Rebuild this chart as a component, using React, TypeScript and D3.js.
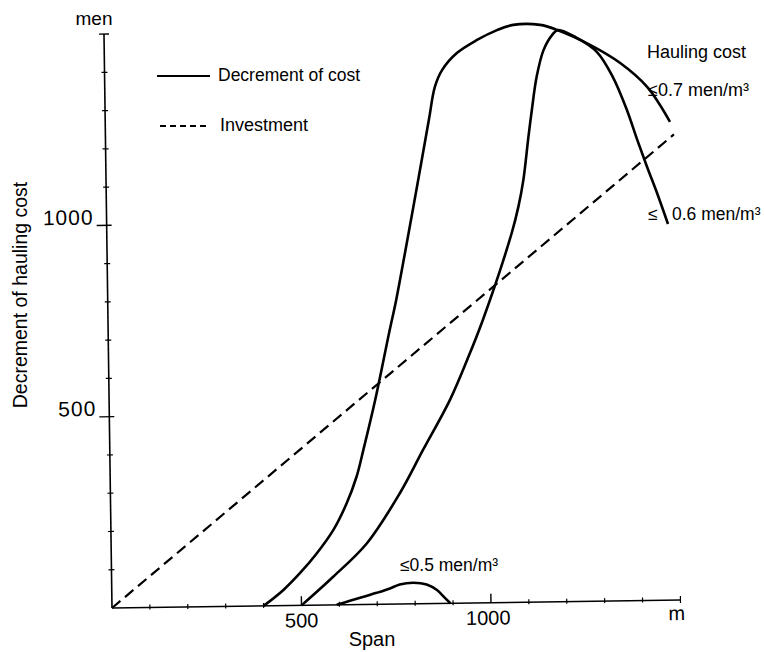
import React from "react";
import * as d3 from "d3";

// Span (m) vs decrement of hauling cost (men)
const curve07: [number, number][] = [
  [400, 0], [453, 41], [497, 84], [542, 135], [587, 196], [623, 265], [650, 334],
  [669, 404], [702, 534], [741, 708], [761, 794], [786, 917], [820, 1089], [854, 1264],
  [871, 1350], [891, 1394], [931, 1438], [984, 1471], [1037, 1496], [1080, 1509],
  [1151, 1508], [1196, 1494], [1282, 1454], [1360, 1406], [1431, 1342], [1490, 1250],
];
const curve06: [number, number][] = [
  [500, 0], [584, 73], [675, 160], [764, 290], [826, 401], [899, 531], [946, 635],
  [989, 739], [1068, 964], [1087, 1034], [1101, 1103], [1116, 1216], [1126, 1286],
  [1140, 1373], [1159, 1442], [1182, 1481], [1198, 1494], [1245, 1474], [1300, 1435],
  [1341, 1369], [1377, 1282], [1403, 1204], [1428, 1133], [1453, 1065], [1481, 983],
];
const curve05: [number, number][] = [
  [593, 0], [628, 10], [664, 20], [699, 30], [734, 41], [760, 51], [796, 55],
  [831, 50], [858, 35], [880, 13], [893, 0],
];
const investment: [number, number][] = [[0, 0], [1500, 1217]];

const xMinorTicks = [100, 200, 300, 400, 600, 700, 800, 900, 1100, 1200, 1300, 1400];
const xMajorTicks = [500, 1000];
const yMinorTicks = [100, 200, 300, 400, 600, 700, 800, 900, 1100, 1200, 1300, 1400];
const yMajorTicks = [500, 1000];
const xTickLabels = ["500", "1000"];
const yTickLabels = ["500", "1000"];

const FONT = "'Liberation Sans', Arial, sans-serif";

export default function App() {
  const x = d3.scaleLinear().domain([0, 1500]).range([0, 568.5]);
  const y = d3.scaleLinear().domain([0, 1500]).range([0, -574]);
  const line = d3
    .line<[number, number]>()
    .x((d) => x(d[0]))
    .y((d) => y(d[1]))
    .curve(d3.curveCatmullRom.alpha(0.5));
  const straight = d3
    .line<[number, number]>()
    .x((d) => x(d[0]))
    .y((d) => y(d[1]));

  return (
    <svg
      width={765}
      height={652}
      style={{ position: "absolute", left: 0, top: 0, background: "#fff" }}
      fontFamily={FONT}
    >
      <rect width={765} height={652} fill="#fff" />
      <g transform="translate(112,608) rotate(-0.8)">
        {/* axes */}
        <line x1={0} y1={0} x2={x(1500)} y2={0} stroke="#000" strokeWidth={1.6} />
        <line x1={0} y1={0} x2={0} y2={y(1500)} stroke="#000" strokeWidth={1.6} />
        {yMinorTicks.map((v) => (
          <line key={"ym" + v} x1={-3} x2={3} y1={y(v)} y2={y(v)} stroke="#000" strokeWidth={1.2} />
        ))}
        {yMajorTicks.map((v) => (
          <line key={"yM" + v} x1={-10} x2={5} y1={y(v)} y2={y(v)} stroke="#000" strokeWidth={1.4} />
        ))}
        <line x1={-5} x2={5} y1={y(1500)} y2={y(1500)} stroke="#000" strokeWidth={1.4} />
        {xMinorTicks.map((v) => (
          <line key={"xm" + v} x1={x(v)} x2={x(v)} y1={-3} y2={2} stroke="#000" strokeWidth={1.2} />
        ))}
        {xMajorTicks.map((v) => (
          <line key={"xM" + v} x1={x(v)} x2={x(v)} y1={-9} y2={0} stroke="#000" strokeWidth={1.4} />
        ))}
        <line x1={x(1500)} x2={x(1500)} y1={-4} y2={3} stroke="#000" strokeWidth={1.2} />

        {/* tick labels */}
        {yMajorTicks.map((v, i) => (
          <text key={"yl" + v} x={-13} y={y(v) - 1} textAnchor="end" fontSize={21} letterSpacing={1}>
            {yTickLabels[i]}
          </text>
        ))}
        {xMajorTicks.map((v, i) => (
          <text key={"xl" + v} x={x(v) - (i === 1 ? 3 : 0)} y={22} textAnchor="middle" fontSize={20}>
            {xTickLabels[i]}
          </text>
        ))}
        <text x={x(1500) - 4} y={20} textAnchor="middle" fontSize={20}>m</text>

        {/* data */}
        <path d={straight(investment) || ""} fill="none" stroke="#000" strokeWidth={2.2} strokeDasharray="11,6" />
        <path d={line(curve07) || ""} fill="none" stroke="#000" strokeWidth={2.6} />
        <path d={line(curve06) || ""} fill="none" stroke="#000" strokeWidth={2.6} />
        <path d={line(curve05) || ""} fill="none" stroke="#000" strokeWidth={2.6} />
      </g>

      {/* axis titles */}
      <text x={94} y={25} textAnchor="middle" fontSize={19}>men</text>
      <text x={372} y={646} textAnchor="middle" fontSize={20}>Span</text>
      <text transform="translate(27,295) rotate(-90)" textAnchor="middle" fontSize={19.5}>
        Decrement of hauling cost
      </text>

      {/* legend */}
      <line x1={157} x2={210} y1={76} y2={76} stroke="#000" strokeWidth={2.2} />
      <text x={218} y={81} fontSize={17.5}>Decrement of cost</text>
      <line x1={160} x2={207} y1={126} y2={126} stroke="#000" strokeWidth={2} strokeDasharray="6,4" />
      <text x={220} y={131} fontSize={18}>Investment</text>

      {/* curve labels */}
      <text x={647} y={58} fontSize={18}>Hauling cost</text>
      <text x={648} y={96} fontSize={18}>≤0.7 men/m³</text>
      <text x={648} y={220} fontSize={17.5}>≤</text>
      <text x={672} y={220} fontSize={17.5}>0.6 men/m³</text>
      <text x={400} y={571} fontSize={17.5}>≤0.5 men/m³</text>
    </svg>
  );
}
